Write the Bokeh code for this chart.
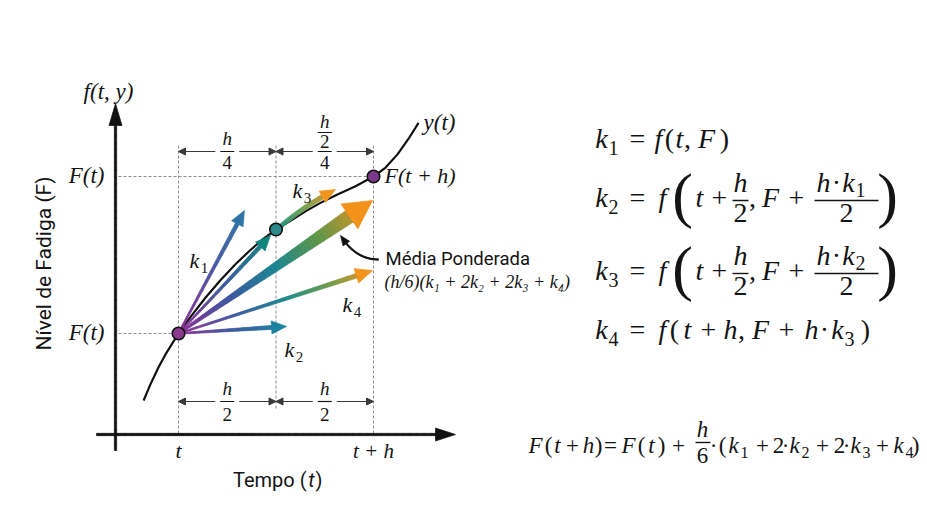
import numpy as np
from bokeh.plotting import figure
from bokeh.models import Range1d, Arrow, NormalHead
from bokeh.core.properties import value
from bokeh.embed import file_html
from bokeh.resources import INLINE

# ---------------- data (diagram units: time in steps of h, fatigue F) ----------------
t_marks = [0.0, 0.5, 1.0]                 # t, t+h/2, t+h
t_tick_labels = ["t", "t + h"]
F_levels = [0.0, 1.0]                      # F(t), F(t+h)
F_tick_labels = ["F(t)", "F(t)"]

curve_t = [-0.179, -0.144, -0.103, -0.062, 0.0, 0.062, 0.138, 0.215, 0.292, 0.369, 0.436,
           0.5, 0.574, 0.651, 0.728, 0.815, 0.908, 1.0, 1.062, 1.123, 1.179, 1.231]
curve_F = [-0.427, -0.324, -0.217, -0.123, 0.0, 0.106, 0.228, 0.339, 0.441, 0.532, 0.604,
           0.662, 0.718, 0.778, 0.832, 0.886, 0.938, 1.0, 1.057, 1.141, 1.239, 1.341]

stage_t = [0.0, 0.5, 1.0]
stage_F = [0.0, 0.662, 1.0]

slope_names = ["k1", "meio", "media", "k4", "k2"]
slope_tip_t = [0.338, 0.472, 0.995, 0.995, 0.554]
slope_tip_F = [0.783, 0.624, 0.847, 0.401, 0.045]

k3_path_t = [0.523, 0.651, 0.805]
k3_path_F = [0.682, 0.803, 0.917]

# ---------------- layout ----------------
W, H = 919, 501
SX, SY = 195.0, 157.0          # px per diagram unit
OX, OY = 178.0, 333.0          # page px of (t, F(t))


def ix(x):
    return (x - OX) / SX


def iy(y):
    return (OY - y) / SY


p = figure(width=W, height=H, x_range=Range1d(ix(0), ix(W)), y_range=Range1d(iy(H), iy(0)),
           x_axis_type=None, y_axis_type=None, toolbar_location=None, output_backend="svg",
           min_border=0, outline_line_color=None, background_fill_color="white",
           border_fill_color="white")
p.xgrid.visible = False
p.ygrid.visible = False

INK = "#141414"
SERIF = "Liberation Serif"
SANS = "Roboto"
BASE_FIX = 0.35


def txt(x, y, s, size, font=SERIF, style="italic", align="center", baseline="alphabetic",
        color=INK, angle=0.0):
    if baseline == "alphabetic":
        y = y + BASE_FIX * size / SY
    p.text(x=[x], y=[y], text=[s], text_font=value(font), text_font_size=f"{size}px",
           text_font_style=style, text_align=align, text_baseline=baseline,
           text_color=color, angle=angle)


def hex2rgb(h):
    return [int(h[i:i + 2], 16) for i in (1, 3, 5)]


def grad(stops, s):
    pos = [q for q, _ in stops]
    cols = np.array([hex2rgb(c) for _, c in stops], float)
    r = [np.interp(s, pos, cols[:, j]) for j in range(3)]
    return "#%02x%02x%02x" % tuple(int(round(v)) for v in r)


def path_px(pt, pf):
    a = np.array([pt[0] * SX, pf[0] * SY])
    b = np.array([pt[-1] * SX, pf[-1] * SY])
    u = np.linspace(0, 1, 400)[:, None]
    if len(pt) == 2:
        return a + (b - a) * u
    m = np.array([pt[1] * SX, pf[1] * SY])
    c = 2 * m - (a + b) / 2
    return (1 - u) ** 2 * a + 2 * u * (1 - u) * c + u ** 2 * b


def gradient_arrow(pt, pf, w0, w1, hl, hw, stops, n=48):
    P = path_px(pt, pf)
    seg = np.hypot(*np.diff(P, axis=0).T)
    cum = np.concatenate([[0.0], np.cumsum(seg)])
    L = cum[-1]
    Ls = L - hl * 0.85
    s = np.linspace(0, Ls, n + 1)
    X = np.interp(s, cum, P[:, 0])
    Y = np.interp(s, cum, P[:, 1])
    s2 = np.clip(s + 0.5, 0, L)
    s1 = np.clip(s - 0.5, 0, L)
    tx = np.interp(s2, cum, P[:, 0]) - np.interp(s1, cum, P[:, 0])
    ty = np.interp(s2, cum, P[:, 1]) - np.interp(s1, cum, P[:, 1])
    nn = np.hypot(tx, ty)
    tx, ty = tx / nn, ty / nn
    nx, ny = -ty, tx
    w = w0 + (w1 - w0) * s / Ls
    xs, ys, cs = [], [], []
    for i in range(n):
        qx = [X[i] + nx[i] * w[i] / 2, X[i + 1] + nx[i + 1] * w[i + 1] / 2,
              X[i + 1] - nx[i + 1] * w[i + 1] / 2, X[i] - nx[i] * w[i] / 2]
        qy = [Y[i] + ny[i] * w[i] / 2, Y[i + 1] + ny[i + 1] * w[i + 1] / 2,
              Y[i + 1] - ny[i + 1] * w[i + 1] / 2, Y[i] - ny[i] * w[i] / 2]
        xs.append([float(v / SX) for v in qx])
        ys.append([float(v / SY) for v in qy])
        cs.append(grad(stops, (s[i] + s[i + 1]) / 2 / L))
    p.patches(xs=xs, ys=ys, fill_color=cs, line_color=cs, line_width=0.7)
    tip = P[-1]
    back = np.array([np.interp(L - hl, cum, P[:, 0]), np.interp(L - hl, cum, P[:, 1])])
    d = tip - back
    d = d / np.hypot(*d)
    nv = np.array([-d[1], d[0]])
    base = tip - d * hl
    hx = [tip[0], base[0] + nv[0] * hw / 2, base[0] - nv[0] * hw / 2]
    hy = [tip[1], base[1] + nv[1] * hw / 2, base[1] - nv[1] * hw / 2]
    ce = grad(stops, 1.0)
    p.patch(x=[float(v / SX) for v in hx], y=[float(v / SY) for v in hy],
            fill_color=ce, line_color=ce, line_width=0.7)


BLACK = [(0, "#111111"), (1, "#111111")]

# ---------------- guides ----------------
GUIDE = "#8c8c8c"
v_top = iy(145)
v_bot = [iy(434), iy(408), iy(434)]
p.segment(x0=t_marks, y0=[v_top] * 3, x1=t_marks, y1=v_bot, line_color=GUIDE,
          line_width=1, line_dash="3 2")
p.segment(x0=[ix(118)] * 2, y0=F_levels, x1=[t_marks[0], t_marks[2]], y1=F_levels,
          line_color=GUIDE, line_width=1, line_dash="3 2")

# axes
gradient_arrow([ix(115), ix(115)], [iy(450), iy(103)], 2.3, 2.3, 22, 13, BLACK)
gradient_arrow([ix(96), ix(455)], [iy(434), iy(434)], 2.3, 2.3, 20, 13, BLACK)

# brackets
BR = "#3a3a3a"


def bracket(ta, tb, yb, bar=True):
    c = (ta + tb) / 2
    g = 12 / SX
    for x0, x1 in ((c - g, ta), (c + g, tb)):
        p.add_layout(Arrow(end=NormalHead(size=7, fill_color=BR, line_color=BR, line_width=1),
                           x_start=x0, y_start=yb, x_end=x1, y_end=yb,
                           line_color=BR, line_width=1.2))
    if bar:
        p.segment(x0=[c - 7 / SX], y0=[yb], x1=[c + 7 / SX], y1=[yb], line_color=INK, line_width=1.2)
    return c


top_y, bot_y = iy(151), iy(401)
c1 = bracket(t_marks[0], t_marks[1], top_y)
c2 = bracket(t_marks[1], t_marks[2], top_y)
c3 = bracket(t_marks[0], t_marks[1], bot_y)
c4 = bracket(t_marks[1], t_marks[2], bot_y)
FS = 19
txt(c1, iy(145), "h", FS)
txt(c1, iy(169), "4", FS, style="normal")
txt(c2, iy(128), "h", FS)
p.segment(x0=[c2 - 7 / SX], y0=[iy(132)], x1=[c2 + 7 / SX], y1=[iy(132)], line_color=INK, line_width=1.2)
txt(c2, iy(148), "2", FS, style="normal")
txt(c2, iy(169), "4", FS, style="normal")
for c in (c3, c4):
    txt(c, iy(395), "h", FS)
    txt(c, iy(421), "2", FS, style="normal")

# curve y(t)
p.line(curve_t, curve_F, line_color="#111111", line_width=2.2)

# slope arrows
PURPLE = "#8e2d91"
stops = {
    "k1": [(0, PURPLE), (0.55, "#4a58a2"), (1, "#2e75a3")],
    "meio": [(0, PURPLE), (0.5, "#3a5a9e"), (1, "#10857c")],
    "media": [(0, PURPLE), (0.25, "#3f54a0"), (0.5, "#1a8590"), (0.72, "#5e9548"), (1, "#f2921a")],
    "k4": [(0, PURPLE), (0.3, "#3d5aa0"), (0.55, "#1b8a8c"), (0.8, "#7a9a45"), (1, "#f0941c")],
    "k2": [(0, PURPLE), (0.5, "#3e5aa0"), (1, "#1a82a0")],
}
sizes = {"k1": (1.5, 4, 15, 13), "meio": (1.5, 4, 15, 13), "media": (2, 14, 28, 30),
         "k4": (1.5, 4.5, 17, 15), "k2": (1.5, 4, 15, 13)}
for name in ["k1", "meio", "k2", "k4", "media"]:
    i = slope_names.index(name)
    w0, w1, hl, hw = sizes[name]
    gradient_arrow([stage_t[0], slope_tip_t[i]], [stage_F[0], slope_tip_F[i]], w0, w1, hl, hw, stops[name])

gradient_arrow(k3_path_t, k3_path_F, 4, 4.5, 15, 13,
               [(0, "#22957e"), (0.5, "#7aa04a"), (1, "#f0941c")])

# pointer to weighted mean
gradient_arrow([ix(378), ix(357), ix(340)], [iy(259), iy(253), iy(235)], 1.4, 1.4, 10, 8, BLACK)

# stage points
p.scatter(stage_t, stage_F, size=12.5, fill_color=["#8b3a8f", "#2a8a8a", "#7a3a8b"],
          line_color="#111111", line_width=1.6)

# ---------------- diagram labels ----------------
txt(ix(108), iy(99), "f(t, y)", 23)
for F, lab in zip(F_levels, F_tick_labels):
    txt(ix(104), F - 7 / SY, lab, 23, align="right")
txt(t_marks[0], iy(458), t_tick_labels[0], 22)
txt(t_marks[2], iy(458), t_tick_labels[1], 21)
txt(curve_t[-1] + 5 / SX, curve_F[-1] - 8 / SY, "y(t)", 23, align="left")
txt(stage_t[2] + 11 / SX, stage_F[2] - 7 / SY, "F(t + h)", 22, align="left")

for s, cx, cy in (("1", 197, 261), ("3", 300, 191), ("4", 350, 305), ("2", 292, 350)):
    txt(ix(cx - 3), iy(cy + 7), "k", 22)
    txt(ix(cx + 7), iy(cy + 12), s, 15, style="normal")

txt(ix(385), iy(265), "Média Ponderada", 18.5, font=SANS, style="normal", align="left")
txt(ix(384), iy(288), "(h/6)(k₁ + 2k₂ + 2k₃ + k₄)", 18, align="left")

txt(ix(43), iy(263), "Nível de Fadiga (F)", 21, font=SANS, style="normal",
    baseline="middle", angle=np.pi / 2)
txt(ix(306), iy(486), "Tempo (", 20, font=SANS, style="normal", align="right")
txt(ix(311), iy(486), "t", 20, font=SANS, style="italic")
txt(ix(315), iy(486), ")", 20, font=SANS, style="normal", align="left")


# ---------------- equations ----------------
def eq_row(items, base, main=28, sub=20, big=62, sub_drop=6, big_drop=9):
    for s, cx, kind in items:
        if kind == "i":
            txt(ix(cx), iy(base), s, main)
        elif kind == "n":
            txt(ix(cx), iy(base), s, main, style="normal")
        elif kind == "s":
            txt(ix(cx), iy(base + sub_drop), s, sub, style="normal")
        elif kind == "B":
            txt(ix(cx), iy(base + big_drop), s, big, style="normal")


def frac(x0, x1, bar, num, den, dcx, main=28, sub=20, nup=8, ddown=22, sub_drop=4):
    p.segment(x0=[ix(x0)], y0=[iy(bar)], x1=[ix(x1)], y1=[iy(bar)], line_color=INK, line_width=1.4)
    eq_row(num, bar - nup, main=main, sub=sub, sub_drop=sub_drop)
    eq_row([(den, dcx, "n")], bar + ddown, main=main)


eq_row([("k", 601, "i"), ("1", 613, "s"), ("=", 637, "n"), ("f", 658, "i"), ("(", 669, "n"),
        ("t", 679, "i"), (",", 687, "n"), ("F", 706, "i"), (")", 724, "n")], 148)

for sub_k, sub_n, bar in (("2", "1", 200), ("3", "2", 273)):
    base = bar + 7
    eq_row([("k", 601, "i"), (sub_k, 613, "s"), ("=", 637, "n"), ("f", 662, "i"), ("(", 682, "B"),
            ("t", 699, "i"), ("+", 719, "n"), (",", 752, "n"), ("F", 770, "i"), ("+", 796, "n"),
            (")", 887, "B")], base)
    frac(732, 748, bar, [("h", 740, "i")], "2", 740)
    frac(814, 878, bar, [("h", 823, "i"), ("·", 836, "n"), ("k", 848, "i"), (sub_n, 860, "s")], "2", 846)

eq_row([("k", 601, "i"), ("4", 613, "s"), ("=", 637, "n"), ("f", 662, "i"), ("(", 674, "n"),
        ("t", 687, "i"), ("+", 708, "n"), ("h", 730, "i"), (",", 741, "n"), ("F", 760, "i"),
        ("+", 786, "n"), ("h", 811, "i"), ("·", 824, "n"), ("k", 837, "i"), ("3", 849, "s"),
        (")", 865, "n")], 339)

eq_row([("F", 535, "i"), ("(", 548, "n"), ("t", 557, "i"), ("+", 572, "n"), ("h", 588, "i"),
        (")", 598, "n"), ("=", 610, "n"), ("F", 628, "i"), ("(", 641, "n"), ("t", 651, "i"),
        (")", 661, "n"), ("+", 678, "n"), ("·", 713, "n"), ("(", 722, "n"), ("k", 733, "i"),
        ("1", 744, "s"), ("+", 762, "n"), ("2", 778, "n"), ("·", 785, "n"), ("k", 794, "i"),
        ("2", 805, "s"), ("+", 822, "n"), ("2", 839, "n"), ("·", 846, "n"), ("k", 855, "i"),
        ("3", 866, "s"), ("+", 882, "n"), ("k", 898, "i"), ("4", 909, "s"), (")", 915, "n")],
       453, main=23, sub=16, sub_drop=5)
frac(695, 710, 442, [("h", 702, "i")], "6", 702, main=23, sub=16, nup=5, ddown=21)

open("out.html", "w").write(file_html(p, INLINE))
